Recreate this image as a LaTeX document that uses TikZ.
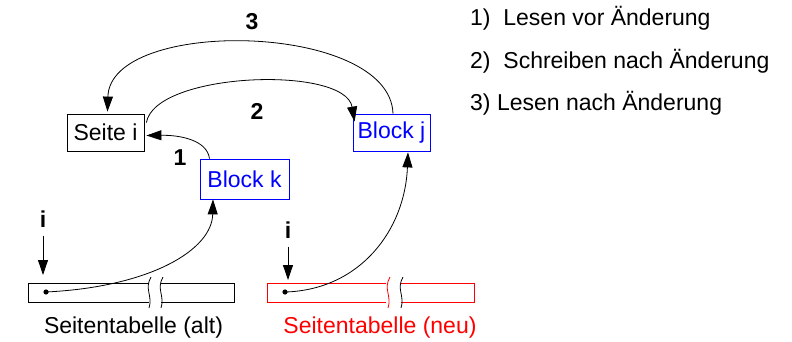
\documentclass[tikz,border=0pt]{standalone}
\usepackage{fontspec}
\setmainfont{Liberation Sans}
\usetikzlibrary{arrows.meta}

\begin{document}
\begin{tikzpicture}[x=1pt,y=-1pt,
    every node/.style={font=\fontsize{23}{28}\selectfont,inner sep=0pt},
    kasten/.style={draw,line width=0.8pt,minimum height=37pt},
    pfeil/.style={line width=0.8pt,-{Triangle[length=15pt,width=10pt]}},
    nummer/.style={font=\fontsize{23}{28}\selectfont\bfseries}]
  \useasboundingbox (0,0) rectangle (792,342);

  % Seite im Speicher und die Bloecke auf der Platte
  \node[kasten,minimum width=77pt] (seite) at (105.5,132.5) {Seite i};
  \node[kasten,blue,minimum width=77pt] (blockj) at (391.5,132.5) {Block j};
  \node[kasten,blue,minimum width=89pt,minimum height=40pt] (blockk) at (244.5,179) {Block k};

  % Zugriffe
  \draw[pfeil] ([xshift=-35pt]blockk.north) .. controls (207,140) and (180,135) .. ([shift={(2,3)}]seite.east);
  \draw[pfeil] ([shift={(2,9)}]seite.north east) .. controls (155,72) and (345,65) .. ([shift={(2,8)}]blockj.north west);
  \draw[pfeil] ([xshift=1.5pt]blockj.north) .. controls (390,22) and (110,17) .. ([shift={(2,-2)}]seite.north);
  \node[nummer] (n1) at (180,158) {1};
  \node[nummer] (n2) at (257,111) {2};
  \node[nummer] (n3) at (252,22) {3};

  % Seitentabelle (alt)
  \draw[line width=0.8pt] (149,283) -- (28,283) -- (28,302) -- (149,302);
  \draw[line width=0.8pt] (161,283) -- (234,283) -- (234,302) -- (161,302);
  \draw[line width=0.8pt] (151,277) .. controls (144,289) and (153,296) .. (149,308);
  \draw[line width=0.8pt] (163,277) .. controls (156,289) and (165,296) .. (161,308);
  \coordinate (altpos) at (46,292);
  \fill (altpos) circle (2.6);
  \node[nummer] (ialt) at (43,219) {i};
  \coordinate (altziel) at (43,275);
  \draw[pfeil] (ialt.south) ++(0,8) -- (altziel);
  \draw[pfeil] (altpos) .. controls (150,287) and (212,250) .. ([xshift=-31.5pt]blockk.south);
  \node (altname) at (133.5,328) {Seitentabelle (alt)};

  % Seitentabelle (neu)
  \draw[red,line width=0.8pt] (386,283) -- (267,283) -- (267,302) -- (386,302);
  \draw[red,line width=0.8pt] (401,283) -- (474,283) -- (474,302) -- (401,302);
  \draw[red,line width=0.8pt] (390,277) .. controls (383,289) and (392,296) .. (388,308);
  \draw[line width=0.8pt] (403,277) .. controls (396,289) and (405,296) .. (401,308);
  \coordinate (neupos) at (285,292);
  \fill (neupos) circle (2.6);
  \node[nummer] (ineu) at (288,230) {i};
  \coordinate (neuziel) at (288,280);
  \draw[pfeil] (ineu.south) ++(0,8) -- (neuziel);
  \draw[pfeil] (neupos) .. controls (360,290) and (405,230) .. ([shift={(16.5,1)}]blockj.south);
  \node[red] (neuname) at (380,328) {Seitentabelle (neu)};

  % Legende
  \node[anchor=west] (l1) at (470,18) {1)~~Lesen vor Änderung};
  \node[anchor=west] (l2) at (470,61) {2)~~Schreiben nach Änderung};
  \node[anchor=west] (l3) at (470,103) {3) Lesen nach Änderung};
\end{tikzpicture}
\end{document}
